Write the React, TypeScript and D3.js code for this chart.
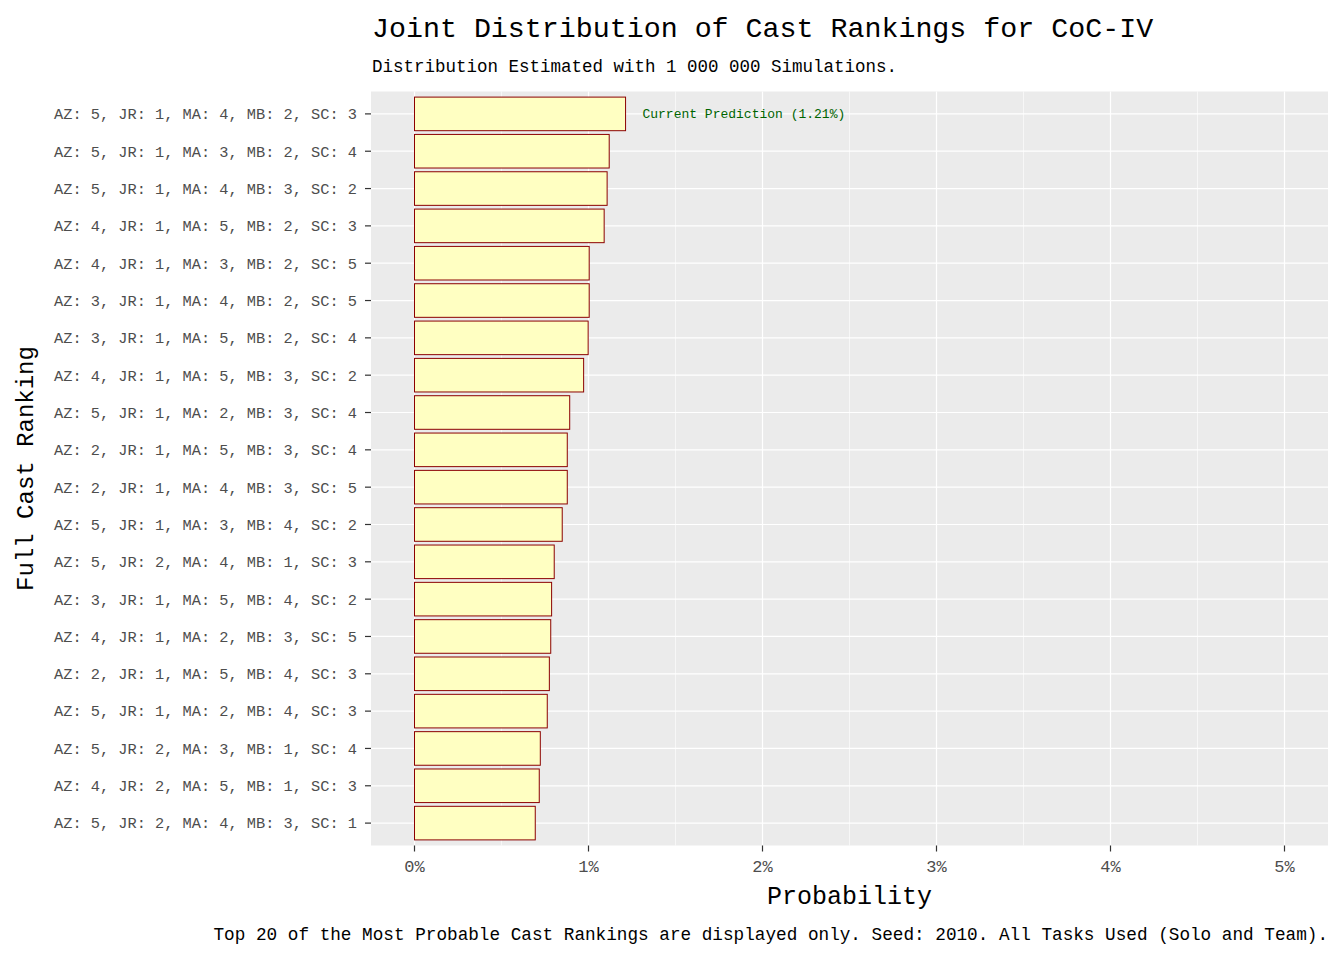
import * as d3 from "d3";

const WIDTH = 1344;
const HEIGHT = 960;
const PANEL = { left: 371, right: 1328, top: 91.5, bottom: 845.5 };

const FONT = "'Liberation Mono', 'DejaVu Sans Mono', monospace";

const rankings = [
  "AZ: 5, JR: 1, MA: 4, MB: 2, SC: 3",
  "AZ: 5, JR: 1, MA: 3, MB: 2, SC: 4",
  "AZ: 5, JR: 1, MA: 4, MB: 3, SC: 2",
  "AZ: 4, JR: 1, MA: 5, MB: 2, SC: 3",
  "AZ: 4, JR: 1, MA: 3, MB: 2, SC: 5",
  "AZ: 3, JR: 1, MA: 4, MB: 2, SC: 5",
  "AZ: 3, JR: 1, MA: 5, MB: 2, SC: 4",
  "AZ: 4, JR: 1, MA: 5, MB: 3, SC: 2",
  "AZ: 5, JR: 1, MA: 2, MB: 3, SC: 4",
  "AZ: 2, JR: 1, MA: 5, MB: 3, SC: 4",
  "AZ: 2, JR: 1, MA: 4, MB: 3, SC: 5",
  "AZ: 5, JR: 1, MA: 3, MB: 4, SC: 2",
  "AZ: 5, JR: 2, MA: 4, MB: 1, SC: 3",
  "AZ: 3, JR: 1, MA: 5, MB: 4, SC: 2",
  "AZ: 4, JR: 1, MA: 2, MB: 3, SC: 5",
  "AZ: 2, JR: 1, MA: 5, MB: 4, SC: 3",
  "AZ: 5, JR: 1, MA: 2, MB: 4, SC: 3",
  "AZ: 5, JR: 2, MA: 3, MB: 1, SC: 4",
  "AZ: 4, JR: 2, MA: 5, MB: 1, SC: 3",
  "AZ: 5, JR: 2, MA: 4, MB: 3, SC: 1",
];

// probability in percent
const probabilities = [
  1.213, 1.119, 1.107, 1.09, 1.004, 1.004, 0.998, 0.972, 0.892, 0.878,
  0.878, 0.849, 0.803, 0.788, 0.783, 0.775, 0.763, 0.723, 0.717, 0.694,
];

const xTicks = [0, 1, 2, 3, 4, 5];
const xMinor = [0.5, 1.5, 2.5, 3.5, 4.5];

const currentPrediction = 1.21;

export default function App() {
  const x = d3
    .scaleLinear()
    .domain([-0.25, 5.25])
    .range([PANEL.left, PANEL.right]);

  const y = d3
    .scaleBand()
    .domain(rankings)
    .range([PANEL.top, PANEL.bottom])
    .paddingInner(0.1)
    .paddingOuter(0.15);

  const center = (r: string) => (y(r) ?? 0) + y.bandwidth() / 2;

  return (
    <svg
      width={WIDTH}
      height={HEIGHT}
      style={{ position: "absolute", left: 0, top: 0, background: "#fff" }}
    >
      <rect
        x={PANEL.left}
        y={PANEL.top}
        width={PANEL.right - PANEL.left}
        height={PANEL.bottom - PANEL.top}
        fill="#EBEBEB"
      />
      {xMinor.map((t) => (
        <line
          key={"mn" + t}
          x1={x(t)}
          x2={x(t)}
          y1={PANEL.top}
          y2={PANEL.bottom}
          stroke="#fff"
          strokeWidth={0.6}
        />
      ))}
      {xTicks.map((t) => (
        <line
          key={"mj" + t}
          x1={x(t)}
          x2={x(t)}
          y1={PANEL.top}
          y2={PANEL.bottom}
          stroke="#fff"
          strokeWidth={1.2}
        />
      ))}
      {rankings.map((r) => (
        <line
          key={"h" + r}
          x1={PANEL.left}
          x2={PANEL.right}
          y1={center(r)}
          y2={center(r)}
          stroke="#fff"
          strokeWidth={1.2}
        />
      ))}

      {rankings.map((r, i) => (
        <rect
          key={"b" + r}
          x={x(0)}
          y={y(r)}
          width={x(probabilities[i]) - x(0)}
          height={y.bandwidth()}
          fill="#FFFFC2"
          stroke="#8B0000"
          strokeWidth={1}
        />
      ))}

      <text
        x={x(currentPrediction + 0.1)}
        y={center(rankings[0])}
        dy="0.35em"
        fontFamily={FONT}
        fontSize={13}
        fill="#006400"
      >
        {`Current Prediction (${currentPrediction.toFixed(2)}%)`}
      </text>

      {/* y axis */}
      {rankings.map((r) => (
        <g key={"yt" + r} transform={`translate(0,${center(r)})`}>
          <line x1={PANEL.left - 6} x2={PANEL.left} stroke="#333" strokeWidth={1.2} />
          <text
            x={PANEL.left - 14}
            dy="0.35em"
            textAnchor="end"
            fontFamily={FONT}
            fontSize={15.3}
            fill="#4D4D4D"
          >
            {r}
          </text>
        </g>
      ))}

      {/* x axis */}
      {xTicks.map((t) => (
        <g key={"xt" + t} transform={`translate(${x(t)},${PANEL.bottom})`}>
          <line y1={0} y2={6} stroke="#333" strokeWidth={1.2} />
          <text
            y={26}
            textAnchor="middle"
            fontFamily={FONT}
            fontSize={17}
            fill="#4D4D4D"
          >
            {d3.format(".0%")(t / 100)}
          </text>
        </g>
      ))}

      <text
        x={(PANEL.left + PANEL.right) / 2}
        y={904}
        textAnchor="middle"
        fontFamily={FONT}
        fontSize={25}
        fill="#000"
      >
        Probability
      </text>

      <text
        transform={`translate(33,${(PANEL.top + PANEL.bottom) / 2}) rotate(-90)`}
        textAnchor="middle"
        fontFamily={FONT}
        fontSize={24}
        fill="#000"
      >
        Full Cast Ranking
      </text>

      <text x={PANEL.left + 1} y={37} fontFamily={FONT} fontSize={28.3} fill="#000">
        Joint Distribution of Cast Rankings for CoC-IV
      </text>
      <text x={PANEL.left + 1} y={72} fontFamily={FONT} fontSize={17.5} fill="#000">
        Distribution Estimated with 1 000 000 Simulations.
      </text>

      <text
        x={PANEL.right}
        y={940}
        textAnchor="end"
        fontFamily={FONT}
        fontSize={17.7}
        fill="#000"
      >
        Top 20 of the Most Probable Cast Rankings are displayed only. Seed: 2010. All Tasks Used (Solo and Team).
      </text>
    </svg>
  );
}
